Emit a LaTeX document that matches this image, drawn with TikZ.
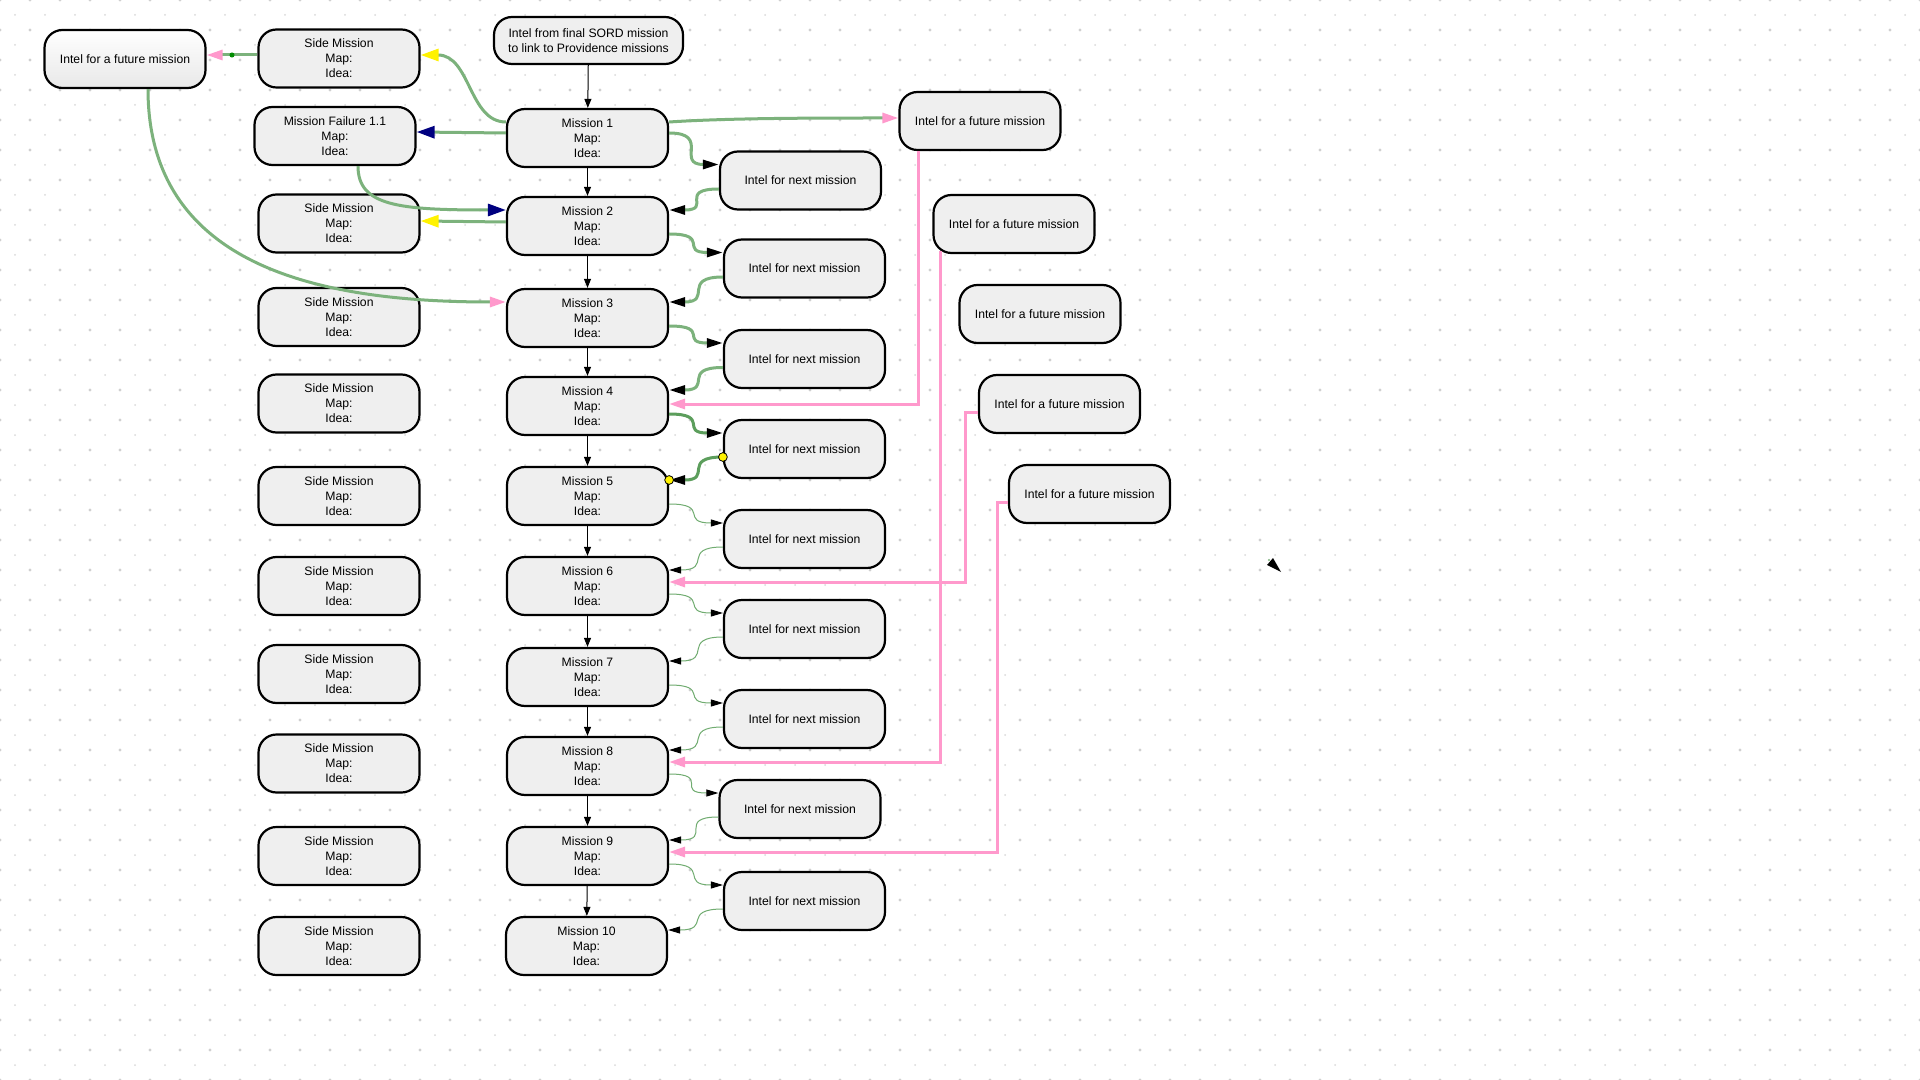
\documentclass[tikz,border=0pt]{standalone}
\usepackage{fontspec}
\setmainfont{Liberation Sans}
\usetikzlibrary{arrows.meta,calc}
\definecolor{gline}{RGB}{124,178,124}
\definecolor{gdark}{RGB}{92,158,92}
\definecolor{gthin}{RGB}{112,172,112}
\definecolor{pinkc}{RGB}{255,153,204}
\definecolor{boxfill}{RGB}{239,239,239}
\definecolor{navyc}{RGB}{0,0,128}
\definecolor{dotbig}{RGB}{208,208,208}
\definecolor{dotsmall}{RGB}{218,218,218}
\begin{document}
\begin{tikzpicture}[x=0.5pt,y=-0.5pt,
  box/.style={draw=black, line width=1.1pt, rounded corners=9pt, fill=boxfill,
    minimum width=80.5pt, minimum height=29pt, inner sep=0pt, align=center,
    font=\fontsize{6.1pt}{7.5pt}\selectfont},
  vlink/.style={draw=black, line width=0.5pt, -{Triangle[length=4.5pt,width=3.5pt]}},
  glink/.style={draw=gline, line width=1.5pt, -{Triangle[length=8pt,width=4.5pt,color=black]}},
  dlink/.style={draw=gdark, line width=1.5pt, -{Triangle[length=8pt,width=4.5pt,color=black]}},
  tlink/.style={draw=gthin, line width=0.5pt, -{Triangle[length=6pt,width=3.5pt,color=black]}},
  plink/.style={draw=pinkc, line width=1.5pt, -{Triangle[length=8pt,width=5pt,color=pinkc]}},
  pinkhead/.style={-{Triangle[length=8pt,width=5pt,color=pinkc]}},
  yellowhead/.style={-{Triangle[length=9pt,width=6pt,color=yellow]}},
  navyhead/.style={-{Triangle[length=9pt,width=6pt,color=navyc]}},
  handle/.style={draw=black, line width=0.4pt, fill=yellow}
]
% background
\fill[white] (0,0) rectangle (1920,1080);
\useasboundingbox (0,0) rectangle (1920,1080);
\fill[dotbig] \foreach \i in {0,...,64} { \foreach \j in {0,...,36} { (\i*30,\j*30) circle (0.8pt) } };
\fill[dotsmall] \foreach \i in {0,...,63} { \foreach \j in {0,...,35} { (\i*30+15,\j*30+15) circle (0.5pt) } };

% nodes
\node[box, minimum width=94.5pt, minimum height=23.5pt] (sord) at (588.5,40.5) {Intel from final SORD mission\\to link to Providence missions};
\node[box] (m1) at (587.5,138) {Mission 1\\Map:\\Idea:};
\node[box] (m2) at (587.5,226) {Mission 2\\Map:\\Idea:};
\node[box] (m3) at (587.5,318) {Mission 3\\Map:\\Idea:};
\node[box] (m4) at (587.5,406) {Mission 4\\Map:\\Idea:};
\node[box] (m5) at (587.5,496) {Mission 5\\Map:\\Idea:};
\node[box] (m6) at (587.5,586) {Mission 6\\Map:\\Idea:};
\node[box] (m7) at (587.5,677) {Mission 7\\Map:\\Idea:};
\node[box] (m8) at (587.5,766) {Mission 8\\Map:\\Idea:};
\node[box] (m9) at (587.5,856) {Mission 9\\Map:\\Idea:};
\node[box] (m10) at (586.5,946) {Mission 10\\Map:\\Idea:};

\node[box] (side1) at (339,58.5) {Side Mission\\Map:\\Idea:};
\node[box] (fail) at (335,136) {Mission Failure 1.1\\Map:\\Idea:};
\node[box] (side2) at (339,223.5) {Side Mission\\Map:\\Idea:};
\node[box] (side3) at (339,317) {Side Mission\\Map:\\Idea:};
\node[box] (side4) at (339,403.5) {Side Mission\\Map:\\Idea:};
\node[box] (side5) at (339,496) {Side Mission\\Map:\\Idea:};
\node[box] (side6) at (339,586) {Side Mission\\Map:\\Idea:};
\node[box] (side7) at (339,674) {Side Mission\\Map:\\Idea:};
\node[box] (side8) at (339,763.5) {Side Mission\\Map:\\Idea:};
\node[box] (side9) at (339,856) {Side Mission\\Map:\\Idea:};
\node[box] (side10) at (339,946) {Side Mission\\Map:\\Idea:};

\node[box, shading angle=45, top color=white, middle color=white, bottom color=black!9] (tlfut) at (125,59) {Intel for a future mission};

\node[box] (nx1) at (800.5,180.5) {Intel for next mission};
\node[box] (nx2) at (804.5,268.5) {Intel for next mission};
\node[box] (nx3) at (804.5,359) {Intel for next mission};
\node[box] (nx4) at (804.5,449) {Intel for next mission};
\node[box] (nx5) at (804.5,539) {Intel for next mission};
\node[box] (nx6) at (804.5,629) {Intel for next mission};
\node[box] (nx7) at (804.5,719) {Intel for next mission};
\node[box] (nx8) at (800,809) {Intel for next mission};
\node[box] (nx9) at (804.5,901) {Intel for next mission};

\node[box] (f1) at (980,121) {Intel for a future mission};
\node[box] (f2) at (1014,224) {Intel for a future mission};
\node[box] (f3) at (1040,314) {Intel for a future mission};
\node[box] (f4) at (1059.5,404) {Intel for a future mission};
\node[box] (f5) at (1089.5,494) {Intel for a future mission};

% vertical mission chain
\draw[vlink] (sord) -- (m1);
\foreach \a/\b in {m1/m2,m2/m3,m3/m4,m4/m5,m5/m6,m6/m7,m7/m8,m8/m9,m9/m10}
  \draw[vlink] (\a) -- (\b);

% mission -> intel for next mission
\draw[glink] ($(m1.east)+(0,-5)$) .. controls +(42,0) and +(-44,0) .. ($(nx1.west)+(0,-16)$);
\foreach \k in {2,3}
  \draw[glink] ($(m\k.east)+(0,8)$) .. controls +(42,0) and +(-44,0) .. ($(nx\k.west)+(0,-16)$);
\draw[dlink] ($(m4.east)+(0,8)$) .. controls +(42,0) and +(-44,0) .. ($(nx4.west)+(0,-16)$);
\foreach \k in {5,...,9}
  \draw[tlink] ($(m\k.east)+(0,8)$) .. controls +(42,0) and +(-44,0) .. ($(nx\k.west)+(0,-16)$);

% intel for next mission -> next mission
\foreach \k/\n in {1/2,2/3,3/4}
  \draw[glink] ($(nx\k.west)+(0,8.5)$) .. controls +(-42,0) and +(44,0) .. ($(m\n.east)+(0,-16)$);
\draw[dlink] ($(nx4.west)+(0,8)$) .. controls +(-42,0) and +(44,0) .. ($(m5.east)+(0,-16)$);
\draw[handle] ($(nx4.west)+(0,8)$) circle (2.2pt);
\draw[handle] ($(m5.east)+(0,-16)$) circle (2.2pt);
\foreach \k/\n in {5/6,6/7,7/8,8/9,9/10}
  \draw[tlink] ($(nx\k.west)+(0,8)$) .. controls +(-42,0) and +(44,0) .. ($(m\n.east)+(0,-16)$);

% mission 1 side links
\draw[draw=gline, line width=1.5pt, yellowhead] ($(m1.west)+(0,-16)$) .. controls +(-37,0) and +(50,0) .. ($(side1.east)+(0,-3.5)$);
\draw[draw=gline, line width=1.5pt, navyhead] ($(m1.west)+(0,-5)$) -- ($(fail.east)+(0,-4)$);
\draw[draw=gline, line width=1.5pt, navyhead] ($(fail.south)+(23,0)$) .. controls +(0,40) and +(-107,0) .. ($(m2.west)+(0,-16)$);
\draw[draw=gline, line width=1.5pt, yellowhead] ($(m2.west)+(0,-4)$) -- ($(side2.east)+(0,-2.5)$);
\draw[draw=gline, line width=1.5pt, pinkhead] ($(side1.west)+(0,-3.5)$) -- node[circle, fill=black!45!green, inner sep=0.9pt]{} ($(tlfut.east)+(0,-4)$);
\draw[draw=gline, line width=1.5pt, pinkhead] ($(tlfut.south)+(23,0)$) .. controls +(0,182) and +(-177,0) .. ($(m3.west)+(0,-16)$);
\draw[draw=gline, line width=1.5pt, pinkhead] ($(m1.east)+(0,-16)$) .. controls +(60,-4) and +(-80,0) .. ($(f1.west)+(0,-3)$);

% future intel (pink)
\draw[plink] ($(f1.south west)+(20,0)$) |- ($(m4.east)+(0,-2)$);
\draw[plink] ($(f2.south west)+(8,-3)$) |- ($(m8.east)+(0,-4)$);
\draw[plink] ($(f4.west)+(0,8)$) -- ++(-12,0) |- ($(m6.east)+(0,-4)$);
\draw[plink] ($(f5.west)+(0,8)$) -- ++(-10,0) |- ($(m9.east)+(0,-4)$);

% stray arrowhead
\fill[black] (1281,572) -- (1267,565) -- (1273,558) -- cycle;
\fill[gline] (1269,560) circle (0.6pt);
\end{tikzpicture}
\end{document}
